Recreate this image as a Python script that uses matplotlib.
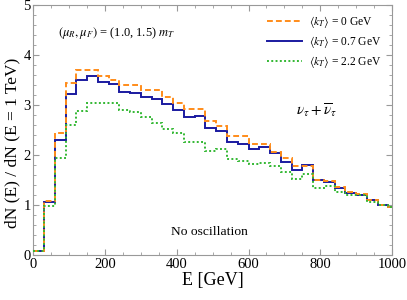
import numpy as np
import matplotlib
matplotlib.use("Agg")
import matplotlib.pyplot as plt
from matplotlib.ticker import MultipleLocator

plt.rcParams['font.family'] = ['Liberation Serif', 'DejaVu Serif']
plt.rcParams['mathtext.fontset'] = 'stix'

# bin edges in GeV (30 GeV bins, last one 990-1000)
edges = np.append(np.arange(0, 1000, 30), 1000)

# <kT> = 0 GeV
kt0 = [0.08, 1.09, 2.44, 3.45, 3.71, 3.71, 3.58, 3.51, 3.40, 3.40,
       3.31, 3.31, 3.17, 3.05, 2.92, 2.92, 2.69, 2.58, 2.39, 2.39,
       2.23, 2.23, 2.07, 1.94, 1.78, 1.79, 1.51, 1.48, 1.37, 1.26,
       1.22, 1.11, 1.00, 0.96]
# <kT> = 0.7 GeV
kt07 = [0.08, 1.06, 2.31, 3.23, 3.50, 3.58, 3.47, 3.42, 3.27, 3.25,
        3.17, 3.12, 3.02, 2.90, 2.76, 2.78, 2.55, 2.49, 2.26, 2.23,
        2.13, 2.17, 2.04, 1.87, 1.71, 1.80, 1.50, 1.46, 1.35, 1.25,
        1.21, 1.10, 1.00, 0.96]
# <kT> = 2.2 GeV
kt22 = [0.08, 0.98, 1.94, 2.60, 2.88, 3.05, 3.05, 3.05, 2.91, 2.86,
        2.76, 2.65, 2.52, 2.45, 2.27, 2.27, 2.08, 2.12, 1.93, 1.89,
        1.82, 1.85, 1.78, 1.66, 1.52, 1.62, 1.35, 1.39, 1.27, 1.20,
        1.21, 1.07, 1.00, 0.96]

fig = plt.figure(figsize=(4.07, 3.00), dpi=100)
ax = fig.add_axes([0.082, 0.15, 0.881, 0.833])

ax.stairs(kt07, edges, baseline=None, color='#1a1aa0', lw=1.4,
          label=r'$\langle k_T\rangle$ = 0.7 GeV', zorder=3)
ax.stairs(kt0, edges, baseline=None, color='#ff8c1a', lw=1.4, ls=(0, (3, 1.6)),
          label=r'$\langle k_T\rangle$ = 0 GeV', zorder=4)
ax.stairs(kt22, edges, baseline=None, color='#33b833', lw=1.4, ls=(0, (1, 1.2)),
          label=r'$\langle k_T\rangle$ = 2.2 GeV', zorder=5)

ax.set_xlim(0, 1000)
ax.set_ylim(0, 5)
ax.xaxis.set_major_locator(MultipleLocator(200))
ax.xaxis.set_minor_locator(MultipleLocator(50))
ax.yaxis.set_major_locator(MultipleLocator(1))
ax.yaxis.set_minor_locator(MultipleLocator(0.2))
ax.tick_params(which='both', direction='in', top=True, right=True,
               labelsize=10.5, color='#999999', pad=2)
ax.tick_params(which='major', length=4)
ax.tick_params(which='minor', length=2)
for s in ax.spines.values():
    s.set_color('#999999')

ax.set_xlabel('E [GeV]', fontsize=13, labelpad=1)
ax.set_ylabel('dN (E) / dN (E = 1 TeV)', fontsize=12.5, labelpad=1)
ax.yaxis.set_label_coords(-0.035, 0.45)

ax.text(231, 4.45, r'$(\mu_R, \mu_F)$ = (1.0, 1.5) $m_T$', fontsize=9,
        ha='center', va='center')
ax.text(789, 2.9, r'$\nu_\tau + \overline{\nu}_\tau$', fontsize=11,
        ha='center', va='center')
ax.text(492, 0.46, 'No oscillation', fontsize=9.7, ha='center', va='center')

h, l = ax.get_legend_handles_labels()
ax.legend([h[1], h[0], h[2]], [l[1], l[0], l[2]], loc='upper right',
          bbox_to_anchor=(0.995, 1.0),
          frameon=False, fontsize=8.3, handlelength=3.0, handletextpad=0.6,
          labelspacing=0.32, borderaxespad=0.4)

fig.savefig('out.png', dpi=100)
